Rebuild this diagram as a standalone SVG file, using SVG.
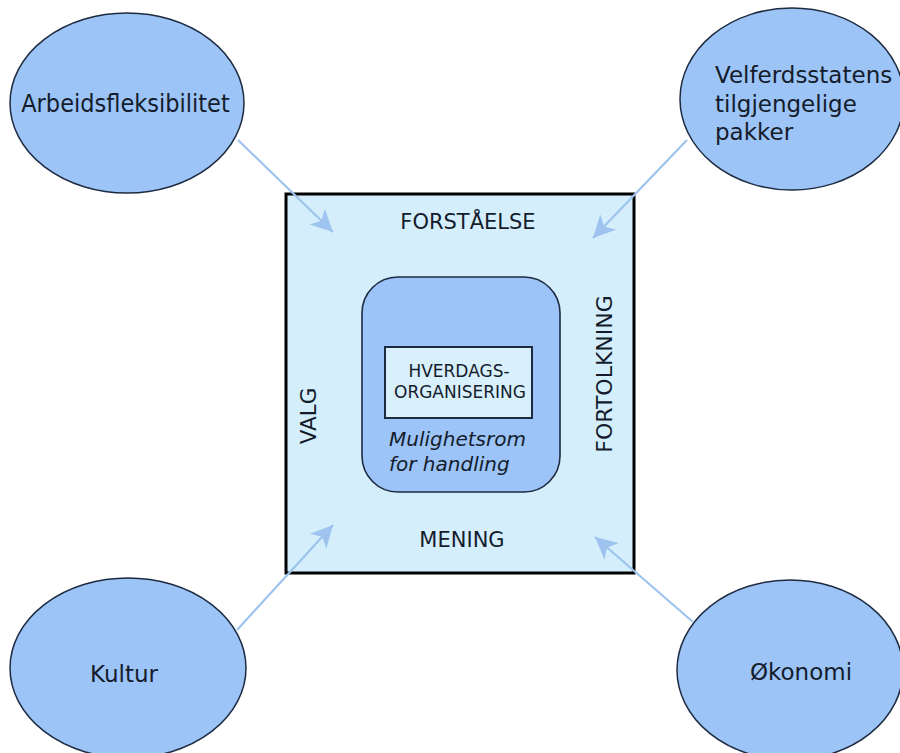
<svg xmlns="http://www.w3.org/2000/svg" width="900" height="753" viewBox="0 0 900 753">
  <style>
    .bubble { fill: #9cc4f6; stroke: #1d2a40; stroke-width: 1.5; }
    .lbl { font-family: "DejaVu Sans", Verdana, sans-serif; fill: #141c2c; }
    .narrow { font-stretch: condensed; }
    .conn { stroke: #9dc3ee; stroke-width: 2.2; fill: none; marker-end: url(#head); }
  </style>
  <defs>
    <marker id="head" markerWidth="28" markerHeight="24" viewBox="-24 -12 26 24" refX="0" refY="0" orient="auto" markerUnits="userSpaceOnUse">
      <path d="M0,0 L-22,-11 L-16,0 L-22,11 Z" fill="#9dc3ee"/>
    </marker>
  </defs>

  <rect width="900" height="753" fill="#ffffff"/>

  <!-- central frame -->
  <g id="frame">
    <rect x="286" y="194" width="348" height="379" fill="#d5eefc" stroke="#000000" stroke-width="3"/>
    <text class="lbl" x="468" y="229" font-size="21" text-anchor="middle">FORSTÅELSE</text>
    <text class="lbl" x="462" y="547" font-size="21" text-anchor="middle">MENING</text>
    <text class="lbl" font-size="21.5" text-anchor="middle" transform="translate(316 416) rotate(-90)">VALG</text>
    <text class="lbl" font-size="22" text-anchor="middle" transform="translate(612 374) rotate(-90)">FORTOLKNING</text>
  </g>

  <g id="mulighetsrom">
    <rect x="362" y="277" width="198" height="215" rx="36" ry="36" fill="#9cc4f8" stroke="#1d2a40" stroke-width="1.6"/>
    <text class="lbl" x="389" y="446" font-size="20" font-style="italic" fill="#1a2a52">Mulighetsrom</text>
    <text class="lbl" x="389" y="471" font-size="20" font-style="italic" fill="#1a2a52">for handling</text>
  </g>

  <g id="hverdagsorganisering">
    <rect x="385" y="347" width="147" height="71" fill="#d8effc" stroke="#1d2a40" stroke-width="2"/>
    <text class="lbl" x="459" y="377" font-size="17" text-anchor="middle">HVERDAGS-</text>
    <text class="lbl" x="460" y="398" font-size="17" text-anchor="middle">ORGANISERING</text>
  </g>

  <!-- outer influences -->
  <g id="arbeidsfleksibilitet">
    <ellipse class="bubble" cx="127" cy="103" rx="117" ry="90"/>
    <text class="lbl narrow" x="125.5" y="112" font-size="25" text-anchor="middle">Arbeidsfleksibilitet</text>
  </g>

  <g id="velferdsstaten">
    <ellipse class="bubble" cx="792" cy="99" rx="112" ry="91"/>
    <text class="lbl" x="715" y="83" font-size="23">Velferdsstatens</text>
    <text class="lbl" x="715" y="112" font-size="23">tilgjengelige</text>
    <text class="lbl" x="715" y="140" font-size="23">pakker</text>
  </g>

  <g id="kultur">
    <ellipse class="bubble" cx="128" cy="668" rx="118" ry="90"/>
    <text class="lbl" x="124" y="682" font-size="23" text-anchor="middle">Kultur</text>
  </g>

  <g id="okonomi">
    <ellipse class="bubble" cx="790" cy="670" rx="113" ry="90"/>
    <text class="lbl" x="801" y="680" font-size="23" text-anchor="middle">Økonomi</text>
  </g>

  <!-- connectors -->
  <g id="connectors">
    <line class="conn" x1="238" y1="140" x2="333" y2="232"/>
    <line class="conn" x1="687" y1="140" x2="593" y2="238"/>
    <line class="conn" x1="237" y1="630" x2="333" y2="525"/>
    <line class="conn" x1="693" y1="622" x2="595" y2="537"/>
  </g>
</svg>
